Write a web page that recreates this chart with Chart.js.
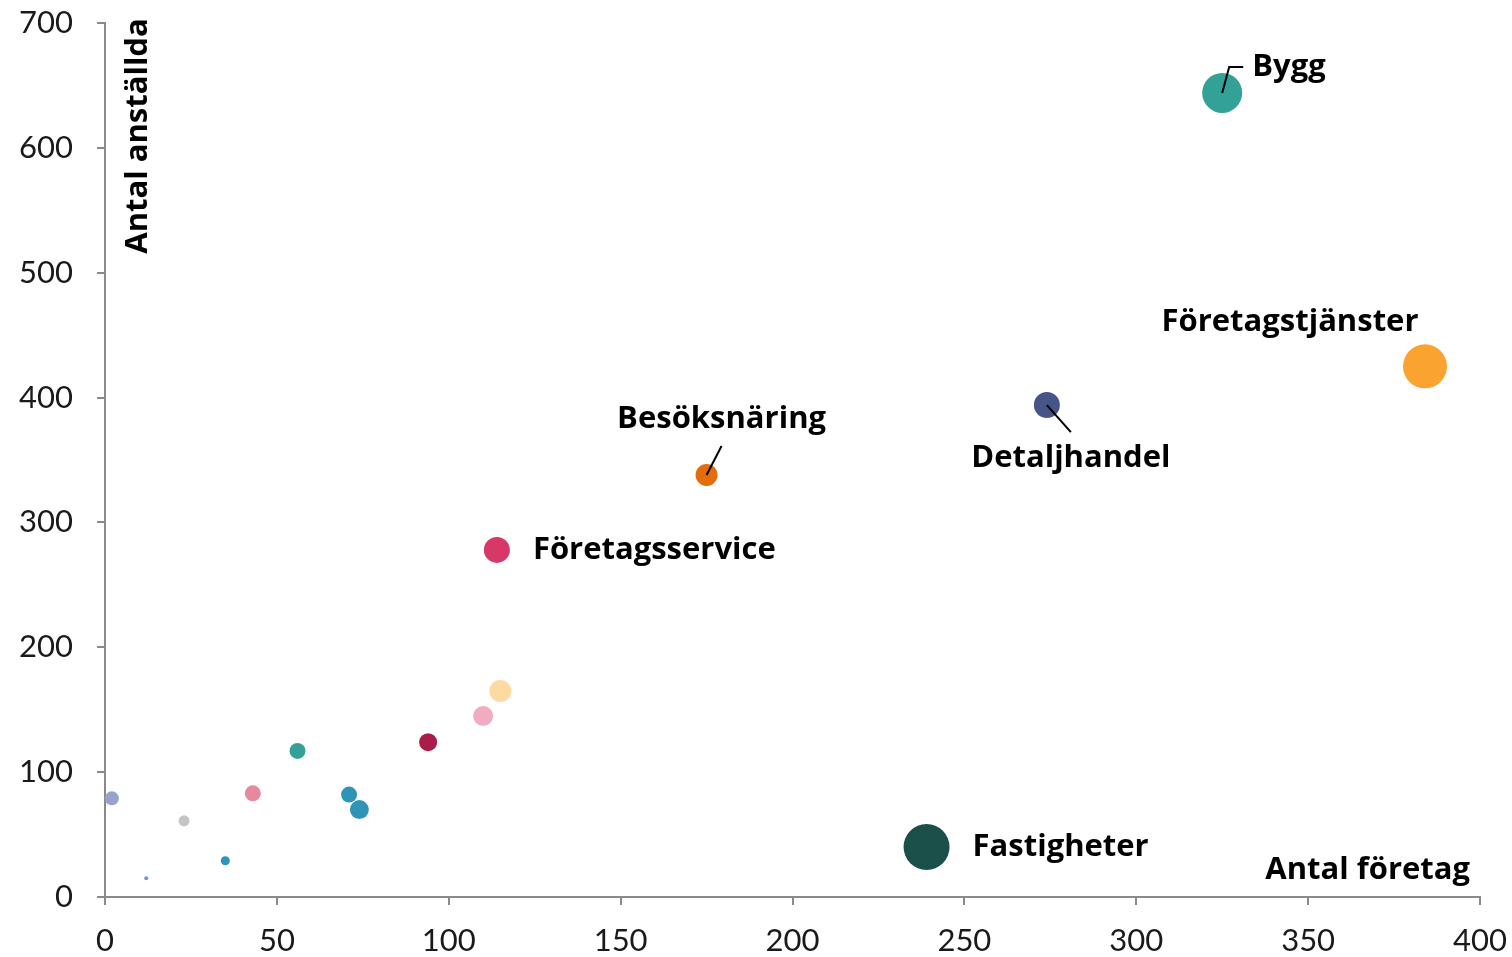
<!DOCTYPE html>
<html>
<head>
<meta charset="utf-8">
<script src="https://cdn.jsdelivr.net/npm/chart.js@4"></script>
<style>
    html, body { margin: 0; padding: 0; background: #fff; }
    #wrap { width: 1512px; height: 957px; }
</style>
</head>
<body>
<div id="wrap"><canvas id="bubbleChart" width="1512" height="957"></canvas></div>
<script>
// data: antal företag (x), antal anställda (y), bubbelstorlek
const foretag   = [2, 12, 23, 35, 43, 56, 71, 74, 94, 110, 115, 114, 175, 239, 274, 325, 384];
const anstallda = [79, 15, 61, 29, 83, 117, 82, 70, 124, 145, 165, 278, 338, 40, 394, 644, 425];
const storlek   = [7, 2, 5.5, 4.5, 8, 8, 8, 9.5, 9, 10, 11, 13, 11, 23, 13, 20, 22];
const farger = [
    '#97a3cc', '#8090d8', '#c4c4c4', '#2b97b8', '#e8889f', '#33a198',
    '#2f95b7', '#2f95b7', '#a81e4a', '#f0adc1', '#ffd9a2', '#d73868',
    '#e46c0a', '#1b4f4a', '#465488', '#33a198', '#fba331'
];
const xTicks = [0, 50, 100, 150, 200, 250, 300, 350, 400];
const yTicks = [0, 100, 200, 300, 400, 500, 600, 700];

// etiketter: index i datat, text, förskjutning (px), justering, ev. hänvisningslinje
const etiketter = [
    { i: 15, text: 'Bygg', dx: 30, dy: -26, align: 'left', line: [[0, 0], [7, -26], [21, -26]] },
    { i: 16, text: 'Företagstjänster', dx: -135, dy: -44, align: 'center' },
    { i: 14, text: 'Detaljhandel', dx: 24, dy: 53, align: 'center', line: [[0, 0], [24, 27]] },
    { i: 12, text: 'Besöksnäring', dx: 15, dy: -56, align: 'center', line: [[0, 0], [15, -29]] },
    { i: 11, text: 'Företagsservice', dx: 36, dy: 0, align: 'left' },
    { i: 13, text: 'Fastigheter', dx: 46, dy: 0, align: 'left' }
];

const labelPlugin = {
    id: 'labels',
    afterDatasetsDraw(chart) {
        const ctx = chart.ctx;
        const xs = chart.scales.x, ys = chart.scales.y;
        ctx.save();
        ctx.fillStyle = '#000';
        ctx.strokeStyle = '#000';
        ctx.lineWidth = 2;
        ctx.font = 'bold 31px "Open Sans"';
        ctx.textBaseline = 'middle';
        etiketter.forEach(e => {
            const px = xs.getPixelForValue(foretag[e.i]);
            const py = ys.getPixelForValue(anstallda[e.i]);
            if (e.line) {
                ctx.beginPath();
                e.line.forEach((p, k) => {
                    if (k === 0) ctx.moveTo(px + p[0], py + p[1]);
                    else ctx.lineTo(px + p[0], py + p[1]);
                });
                ctx.stroke();
            }
            ctx.textAlign = e.align;
            ctx.fillText(e.text, px + e.dx, py + e.dy);
        });
        // axeltitlar
        ctx.textAlign = 'right';
        ctx.fillText('Antal företag', xs.right - 10, ys.bottom - 27);
        ctx.translate(xs.left + 33, ys.top + 113);
        ctx.rotate(-Math.PI / 2);
        ctx.textAlign = 'center';
        ctx.fillText('Antal anställda', 0, 0);
        ctx.restore();
    }
};

new Chart(document.getElementById('bubbleChart'), {
    type: 'bubble',
    data: {
        datasets: [{
            data: foretag.map((x, i) => ({ x: x, y: anstallda[i], r: storlek[i] })),
            backgroundColor: farger,
            borderWidth: 0,
            hoverBorderWidth: 0
        }]
    },
    options: {
        responsive: false,
        animation: false,
        layout: { padding: { top: 22, right: 32, left: 0, bottom: 0 } },
        plugins: {
            legend: { display: false },
            tooltip: { enabled: false }
        },
        scales: {
            x: {
                type: 'linear',
                min: 0,
                max: 400,
                afterBuildTicks: axis => { axis.ticks = xTicks.map(v => ({ value: v })); },
                afterFit: axis => {
                    axis.height = 60;
                    axis.paddingLeft = 0;
                    axis.paddingRight = 0;
                },
                grid: {
                    drawOnChartArea: false,
                    drawTicks: true,
                    tickLength: 8,
                    color: '#8a8a8a',
                    lineWidth: 2
                },
                border: { color: '#8a8a8a', width: 2 },
                ticks: {
                    color: '#1a1a1a',
                    padding: 17,
                    font: { family: 'Lato', size: 31 }
                }
            },
            y: {
                type: 'linear',
                min: 0,
                max: 700,
                afterBuildTicks: axis => { axis.ticks = yTicks.map(v => ({ value: v })); },
                afterFit: axis => {
                    axis.width = 105;
                    axis.paddingTop = 0;
                    axis.paddingBottom = 0;
                },
                grid: {
                    drawOnChartArea: false,
                    drawTicks: true,
                    tickLength: 8,
                    color: '#8a8a8a',
                    lineWidth: 2
                },
                border: { color: '#8a8a8a', width: 2 },
                ticks: {
                    color: '#1a1a1a',
                    padding: 24,
                    font: { family: 'Lato', size: 31 }
                }
            }
        }
    },
    plugins: [labelPlugin]
});
</script>
</body>
</html>
